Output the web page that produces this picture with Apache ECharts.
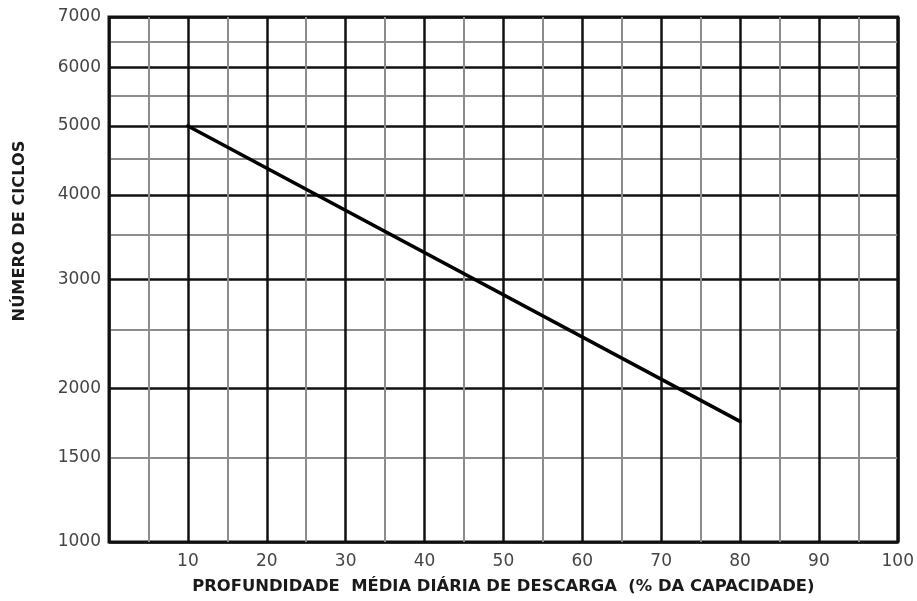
<!DOCTYPE html>
<html>
<head>
<meta charset="utf-8">
<script src="https://cdn.jsdelivr.net/npm/echarts@6/dist/echarts.min.js"></script>
<style>
  html, body { margin: 0; padding: 0; background: #ffffff; }
  #chart { width: 917px; height: 601px; }
</style>
</head>
<body>
<div id="chart"></div>
<script>
// Depth of discharge (% of capacity) and cycle life endpoints
const depthPct = [10, 80];
const cycles = [5000, 1750];

// Axis ticks
const xMajorTicks = [0, 10, 20, 30, 40, 50, 60, 70, 80, 90, 100];
const xMinorTicks = [5, 15, 25, 35, 45, 55, 65, 75, 85, 95];
const yMajorTicks = [1000, 2000, 3000, 4000, 5000, 6000, 7000];
const yMinorTicks = [1500, 2500, 3500, 4500, 5500, 6500];
const yLabelTicks = [1000, 1500, 2000, 3000, 4000, 5000, 6000, 7000];

// The cycle axis is graduated on log(n + 1000)
const OFFSET = 1000;
const fwd = v => Math.log10(v + OFFSET);
const inv = t => Math.round((Math.pow(10, t) - OFFSET) / 10) * 10;

const yMin = fwd(1000);
const yMax = fwd(7000);

const lineData = depthPct.map((d, i) => [d, fwd(cycles[i])]);

const labelFont = { fontFamily: 'DejaVu Sans, sans-serif', fontSize: 17, color: '#444' };
const titleFont = { fontFamily: 'DejaVu Sans, sans-serif', fontWeight: 'bold', fontSize: 16.4, color: '#1a1a1a' };

const chart = echarts.init(document.getElementById('chart'), null, { renderer: 'canvas' });

chart.setOption({
  animation: false,
  backgroundColor: '#ffffff',
  grid: {
    left: 109, right: 15, top: 17, bottom: 59,
    show: true, borderColor: '#111', borderWidth: 3, backgroundColor: '#ffffff'
  },
  xAxis: [
    {
      type: 'value', min: 0, max: 100, interval: 5,
      axisLine: { show: false },
      axisTick: { show: false, customValues: xMinorTicks },
      axisLabel: { show: false },
      splitLine: { show: true, lineStyle: { color: '#8c8c8c', width: 2 } }
    },
    {
      type: 'value', min: 0, max: 100, interval: 10, position: 'bottom',
      axisLine: { show: false },
      axisTick: { show: false },
      axisLabel: Object.assign({
        margin: 11,
        formatter: v => (v === 0 ? '' : String(v))
      }, labelFont),
      splitLine: { show: true, lineStyle: { color: '#111', width: 2.5 } },
      name: 'PROFUNDIDADE  MÉDIA DIÁRIA DE DESCARGA  (% DA CAPACIDADE)',
      nameLocation: 'middle',
      nameGap: 37,
      nameTextStyle: titleFont
    }
  ],
  yAxis: [
    {
      type: 'value', min: yMin, max: yMax,
      axisLine: { show: false },
      axisTick: { show: false, customValues: yMinorTicks.map(fwd) },
      axisLabel: { show: false },
      splitLine: { show: true, lineStyle: { color: '#8c8c8c', width: 2 } }
    },
    {
      type: 'value', min: yMin, max: yMax, position: 'left',
      axisLine: { show: false },
      axisTick: { show: false, customValues: yMajorTicks.map(fwd) },
      axisLabel: Object.assign({
        margin: 8,
        customValues: yLabelTicks.map(fwd),
        formatter: v => String(inv(v))
      }, labelFont),
      splitLine: { show: true, lineStyle: { color: '#111', width: 2.5 } }
    }
  ],
  graphic: [
    {
      type: 'text',
      x: 20, y: 231,
      rotation: Math.PI / 2,
      style: {
        text: 'NÚMERO DE CICLOS',
        align: 'center',
        verticalAlign: 'middle',
        fill: titleFont.color,
        font: 'bold 16.2px "DejaVu Sans", sans-serif'
      }
    }
  ],
  series: [
    {
      type: 'line',
      xAxisIndex: 1,
      yAxisIndex: 1,
      data: lineData,
      showSymbol: false,
      symbol: 'none',
      lineStyle: { color: '#000', width: 3.5, cap: 'round' },
      z: 5
    }
  ]
});
</script>
</body>
</html>
